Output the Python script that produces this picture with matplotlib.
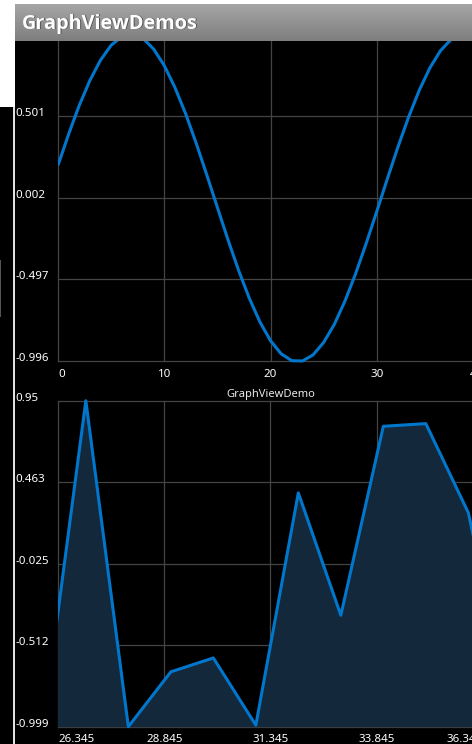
import matplotlib
matplotlib.use('Agg')
import matplotlib.pyplot as plt
import matplotlib.transforms as mtransforms
from matplotlib.patches import Rectangle
import numpy as np

# --- данные ---
sine_x = list(range(0, 41))
sine_y = [0.199, 0.389, 0.565, 0.717, 0.841, 0.932, 0.985, 0.9996, 0.974, 0.909,
          0.808, 0.675, 0.516, 0.335, 0.141, -0.058, -0.256, -0.443, -0.612, -0.757,
          -0.872, -0.952, -0.994, -0.996, -0.959, -0.883, -0.773, -0.631, -0.465, -0.279,
          -0.083, 0.117, 0.312, 0.494, 0.657, 0.794, 0.899, 0.968, 0.999, 0.989, 0.941]
sine_xticks = [0, 10, 20, 30, 40]
sine_yticks = [-0.996, -0.497, 0.002, 0.501, 0.9996]
sine_ylabels = ['-0.996', '-0.497', '0.002', '0.501', '1']

rt_x = [26, 27, 28, 29, 30, 31, 32, 33, 34, 35, 36, 37]
rt_y = [-0.98, 0.95, -0.999, -0.671, -0.588, -0.99, 0.399, -0.333, 0.797, 0.813, 0.280, -0.90]
rt_xticks = [26.345, 28.845, 31.345, 33.845, 36.345]
rt_xlabels = ['26.345', '28.845', '31.345', '33.845', '36.345']
rt_yticks = [-0.999, -0.512, -0.025, 0.463, 0.95]
rt_ylabels = ['-0.999', '-0.512', '-0.025', '0.463', '0.95']

W, H = 472, 744
LINE = '#0077cc'
FILL = '#14283c'
GRID = '#444444'
FONT = 'Noto Sans'


def fx(px):
    return px / W


def fy(py):
    return 1 - py / H


fig = plt.figure(figsize=(W / 100, H / 100), dpi=100, facecolor='black')


def make_graph(left, right, top, bottom, xlim, ylim):
    ax = fig.add_axes([fx(left), fy(bottom), (right - left) / W, (bottom - top) / H])
    ax.set_facecolor('black')
    ax.set_xlim(*xlim)
    ax.set_ylim(*ylim)
    ax.set_xticks([])
    ax.set_yticks([])
    for s in ax.spines.values():
        s.set_visible(False)
    return ax


def draw_labels(ax, xticks, xlabels, yticks, ylabels, x_base):
    ytr = mtransforms.blended_transform_factory(fig.transFigure, ax.transData)
    for v, s in zip(yticks, ylabels):
        ax.text(fx(15.3), v, s, transform=ytr, fontsize=8.3, color='white',
                ha='left', va='baseline', family=FONT)
    xtr = mtransforms.blended_transform_factory(ax.transData, fig.transFigure)
    n = len(xticks)
    for i, (v, s) in enumerate(zip(xticks, xlabels)):
        ha = 'left' if i == 0 else ('right' if i == n - 1 else 'center')
        ax.text(v, fy(x_base), s, transform=xtr, fontsize=8.3, color='white',
                ha=ha, va='baseline', family=FONT)


def draw_grid(ax, xticks, yticks):
    for v in xticks:
        ax.axvline(v, color=GRID, lw=0.9, zorder=0.5, clip_on=False)
    for v in yticks:
        ax.axhline(v, color=GRID, lw=0.9, zorder=0.5, clip_on=False)


# --- верхний график: синус ---
ax1 = make_graph(58, 483, 34.2, 361, (0, 40), (-0.996, 0.9996))
draw_grid(ax1, sine_xticks, sine_yticks)
l1, = ax1.plot(sine_x, sine_y, color=LINE, lw=2.2, zorder=2, solid_capstyle='butt')
l1.set_clip_path(Rectangle((0, -1.2), 50, 2.4, transform=ax1.transData))
draw_labels(ax1, sine_xticks, [str(t) for t in sine_xticks], sine_yticks, sine_ylabels, 377)

# --- нижний график: случайные данные с заливкой ---
ax2 = make_graph(58, 483, 400.7, 726.7, (26.345, 36.345), (-0.999, 0.95))
draw_grid(ax2, rt_xticks, rt_yticks)
ax2.fill_between(rt_x, rt_y, -0.999, color=FILL, lw=0, zorder=1)
l2, = ax2.plot(rt_x, rt_y, color=LINE, lw=2.2, zorder=2)
l2.set_clip_path(Rectangle((26.345, -1.2), 20, 2.4, transform=ax2.transData))
draw_labels(ax2, rt_xticks, rt_xlabels, rt_yticks, rt_ylabels, 742)
fig.text(fx(270.5), fy(397), 'GraphViewDemo', fontsize=8.0, color='#e8e8e8',
         ha='center', va='baseline', family=FONT)

# --- заголовок приложения ---
ax_bar = fig.add_axes([fx(15), fy(41), (W - 15) / W, 37 / H])
ax_bar.set_zorder(5)
grad = np.linspace(0, 1, 64).reshape(-1, 1)
ax_bar.imshow(grad, aspect='auto', cmap=matplotlib.colors.LinearSegmentedColormap.from_list(
    'bar', ['#a6a6a6', '#7e7e7e']), extent=(0, 1, 1, 0))
ax_bar.axis('off')
TITLE_FONT = ['Open Sans', 'DejaVu Sans']
fig.text(fx(23), fy(29.5), 'GraphViewDemos', fontsize=14.3, weight='bold', color='#3a3a3a',
         ha='left', va='baseline', family=TITLE_FONT, zorder=9, alpha=0.7)
fig.text(fx(22), fy(28.5), 'GraphViewDemos', fontsize=14.3, weight='bold', color='white',
         ha='left', va='baseline', family=TITLE_FONT, zorder=10)

# --- полоска слева и сверху ---
fig.add_artist(Rectangle((0, fy(4)), 1, 4 / H, transform=fig.transFigure,
                         facecolor='white', lw=0, zorder=6))
fig.add_artist(Rectangle((0, fy(107)), fx(15), 107 / H, transform=fig.transFigure,
                         facecolor='white', lw=0, zorder=6))
fig.add_artist(Rectangle((fx(13.3), 0), fx(1.7), fy(107), transform=fig.transFigure,
                         facecolor='#e0e0e0', lw=0, zorder=6))
fig.add_artist(Rectangle((0, fy(317)), fx(1), 57 / H, transform=fig.transFigure,
                         facecolor='#555555', lw=0, zorder=6))

fig.savefig('out.png', dpi=100, facecolor='black')
